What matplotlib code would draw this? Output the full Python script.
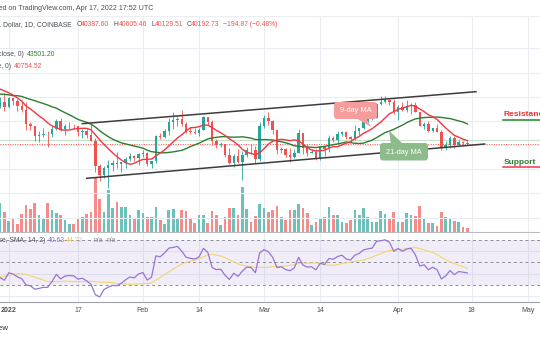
import matplotlib
matplotlib.use("Agg")
import matplotlib.pyplot as plt
import matplotlib.dates as mdates
import matplotlib.transforms as mtransforms
from matplotlib.patches import Polygon, FancyBboxPatch
from matplotlib.lines import Line2D
import numpy as np
import pandas as pd

W, H = 540, 340
plt.rcParams['font.family'] = ['Liberation Sans', 'DejaVu Sans']

# closes before the visible window, only used to feed the MA / RSI
hist_start = "2021-12-01"
hist_close = [57200, 56500, 53600, 49150, 49400, 50580, 50500, 50600, 47600, 47150,
              49390, 50090, 46720, 48380, 48880, 47650, 46200, 46850, 46700, 46880,
              48940, 48620, 50820, 50430, 50800, 50640, 50700, 47540, 46470]

# daily candles 2021-12-30 .. 2022-04-17
start = "2021-12-30"
opens = [46470, 47140, 46220, 47740, 47310, 46460, 45830, 43430, 43100, 41550,
         41690, 41860, 41830, 42740, 43930, 42590, 43080, 43170, 43090, 42230,
         42370, 41680, 40700, 36470, 35080, 36280, 36690, 36970, 36820, 37190,
         37720, 38170, 37920, 38490, 38710, 36900, 37330, 41570, 41390, 42400,
         43850, 44070, 44380, 43540, 42400, 42200, 42060, 42550, 44580, 43900,
         40600, 40000, 40100, 38380, 37020, 38250, 37260, 38350, 39230, 39130,
         37720, 43180, 44430, 43920, 42450, 39150, 39400, 38420, 38000, 38750,
         41960, 39440, 38740, 38810, 37790, 39680, 39290, 41120, 40920, 41770,
         42210, 41270, 41010, 42370, 42900, 43980, 44330, 44530, 46830, 47130,
         47450, 47070, 45530, 46300, 45820, 46420, 46620, 45500, 43170, 43450,
         42250, 42760, 42160, 39520, 40080, 41140, 39940, 40560, 40387.60]
highs = [47900, 48550, 47940, 47990, 47570, 47510, 47070, 43750, 43130, 42300,
         42800, 42250, 43100, 44350, 44440, 43450, 43800, 43480, 43190, 42690,
         42580, 43500, 41100, 36820, 36600, 37550, 37560, 38920, 37240, 38000,
         38700, 38360, 38730, 39270, 38860, 37390, 41750, 41950, 42660, 44520,
         45500, 44800, 45850, 43900, 43000, 42750, 42850, 44750, 44590, 44200,
         40950, 40450, 40130, 39500, 38450, 39280, 39000, 39700, 40100, 39850,
         43750, 44950, 45400, 44100, 42520, 39650, 39450, 39550, 39380, 42600,
         42050, 40250, 39360, 39300, 39900, 39880, 41700, 41470, 42300, 42400,
         42300, 41550, 43350, 42900, 44200, 45100, 44800, 46900, 48190, 48100,
         47700, 47600, 46700, 47200, 47450, 46880, 47100, 45500, 43900, 43950,
         42800, 43430, 42420, 40700, 41550, 41500, 40880, 40720, 40605.46]
lows = [46060, 45680, 46210, 46650, 45700, 45520, 42500, 42420, 40600, 40500,
        41280, 39650, 41270, 42470, 42320, 41730, 42600, 42700, 41550, 41250,
        41150, 40600, 35500, 34020, 34620, 32950, 35700, 36250, 35520, 36160,
        37330, 37360, 36630, 38020, 36600, 36260, 37050, 40980, 41150, 41700,
        42690, 43130, 43200, 42000, 41770, 41870, 41570, 42430, 43330, 40070,
        39450, 39650, 38000, 36800, 36360, 37060, 34300, 38000, 38600, 37030,
        37450, 42850, 43350, 41850, 38600, 38650, 38100, 37180, 37880, 38650,
        38550, 38230, 38650, 37600, 37580, 38120, 38900, 40540, 40200, 41520,
        40930, 40500, 40900, 41750, 42600, 43600, 44100, 44420, 46650, 46950,
        46550, 45220, 44220, 45630, 45520, 45120, 45400, 43120, 42720, 42110,
        42130, 42140, 39200, 39250, 39570, 39560, 39780, 40020, 40129.51]
closes = [47140, 46220, 47740, 47310, 46460, 45830, 43430, 43100, 41550, 41690,
          41860, 41830, 42740, 43930, 42590, 43080, 43170, 43090, 42230, 42370,
          41680, 40700, 36470, 35080, 36280, 36690, 36970, 36820, 37190, 37720,
          38170, 37920, 38490, 38710, 36900, 37330, 41570, 41390, 42400, 43850,
          44070, 44380, 43540, 42400, 42200, 42060, 42550, 44580, 43900, 40600,
          40000, 40100, 38380, 37020, 38250, 37260, 38350, 39230, 39130, 37720,
          43180, 44430, 43920, 42450, 39150, 39400, 38420, 38000, 38750, 41960,
          39440, 38740, 38810, 37790, 39680, 39290, 41120, 40920, 41770, 42210,
          41270, 41010, 42370, 42900, 43980, 44330, 44530, 46830, 47130, 47450,
          47070, 45530, 46300, 45820, 46420, 46620, 45500, 43170, 43450, 42250,
          42760, 42160, 39520, 40080, 41140, 39940, 40560, 40390, 40192.73]
# volume read as bar height (thousand BTC, approx)
volumes = [29, 20, 11, 14, 8, 18, 27, 23, 29, 17,
           13, 29, 22, 19, 17, 12, 8, 8, 14, 15,
           18, 20, 55, 33, 20, 42, 24, 30, 25, 25,
           17, 14, 22, 19, 15, 15, 25, 12, 8, 22,
           23, 14, 22, 21, 14, 9, 17, 17, 9, 21,
           17, 7, 15, 24, 24, 17, 45, 23, 10, 16,
           28, 24, 20, 22, 26, 15, 12, 22, 22, 28,
           24, 19, 7, 10, 14, 15, 25, 17, 17, 10,
           9, 12, 22, 17, 24, 15, 10, 10, 21, 18,
           14, 20, 10, 10, 19, 17, 16, 26, 14, 9,
           9, 6, 20, 15, 14, 11, 10, 5, 4]

# hand drawn channel and price lines
chan_up_dates = ["2022-01-18", "2022-04-19"]
chan_up_price = [43540, 48830]
chan_lo_dates = ["2022-01-19", "2022-04-21"]
chan_lo_price = [34510, 40180]
ma_line_price = 40850

x_ticks = ["2022-01-01", "2022-01-17", "2022-02-01", "2022-02-14", "2022-03-01",
           "2022-03-14", "2022-04-01", "2022-04-18", "2022-05-01"]
x_labels = ["2022", "17", "Feb", "14", "Mar", "14", "Apr", "18", "May"]

UP, DOWN = "#26a69a", "#ef5350"
GRID = "#e9edf3"

dates = pd.date_range(start, periods=len(closes), freq="D")
o, h, l, c = map(np.array, (opens, highs, lows, closes))
x = mdates.date2num(dates)
up = c >= o
cols = np.where(up, UP, DOWN)

full = pd.Series(hist_close + closes,
                 index=pd.date_range(hist_start, periods=len(hist_close) + len(closes), freq="D"))
xf = mdates.date2num(full.index)
ma9 = full.rolling(9).mean()
ma21 = full.rolling(21).mean()
delta = full.diff()
gain = delta.clip(lower=0).ewm(alpha=1 / 14, adjust=False).mean()
loss = (-delta.clip(upper=0)).ewm(alpha=1 / 14, adjust=False).mean()
rsi = 100 - 100 / (1 + gain / loss)
rsi_sma = rsi.rolling(14).mean()

x0 = mdates.date2num(pd.Timestamp("2022-01-01"))
xlim = (x0 - 2.03, x0 + 122.8)

fig = plt.figure(figsize=(W / 100, H / 100), dpi=100)
fig.patch.set_facecolor("white")
T = mtransforms.IdentityTransform()


def P(px, py):
    return px, H - py


def rect(top, bottom):
    return [0, 1 - bottom / H, 1, (bottom - top) / H]


# volume pane (below) and price pane (above, transparent)
ax_v = fig.add_axes(rect(16, 232))
ax = fig.add_axes(rect(16, 232))
ax.patch.set_visible(False)
for a in (ax_v, ax):
    a.set_xlim(*xlim)
    a.set_xticks([])
    a.set_yticks([])
    for s in a.spines.values():
        s.set_visible(False)
ax.spines["bottom"].set_visible(True)
ax.spines["bottom"].set_color("#b8bbc2")
ax.spines["top"].set_visible(True)
ax.spines["top"].set_color("#eceef2")

ax_v.set_ylim(0, 216)
for t in x_ticks:
    ax_v.axvline(mdates.date2num(pd.Timestamp(t)), color=GRID, lw=0.8, zorder=0)
vcols = np.where(up, "#6cc2ba", "#f58c8a")
ax_v.bar(x, volumes, width=0.62, color=vcols, lw=0, zorder=2)

ax.set_ylim(25636, 61339)
for p in range(28000, 60000, 4000):
    ax.axhline(p, color=GRID, lw=0.8, zorder=0)

ax.plot(xf, ma21, color="#2e7d32", lw=1.0, zorder=5)
ax.plot(xf, ma9, color="#f23645", lw=1.0, zorder=5)
ax.vlines(x, l, h, colors=cols, lw=0.6, zorder=3)
ax.bar(x, np.maximum(np.abs(c - o), 70), bottom=np.minimum(o, c), width=0.56,
       color=cols, lw=0, zorder=4)

ax.plot(mdates.date2num(pd.to_datetime(chan_up_dates)), chan_up_price, color="#3d3d3d", lw=1.1, zorder=6)
ax.plot(mdates.date2num(pd.to_datetime(chan_lo_dates)), chan_lo_price, color="#3d3d3d", lw=1.1, zorder=6)
ax.axhline(ma_line_price, color="#c5e3c4", lw=0.8, zorder=1)
ax.axhline(closes[-1], color="#ef5350", lw=0.7, ls=(0, (1, 1.5)), zorder=1)

# RSI pane
ax_r = fig.add_axes(rect(233, 301.7))
ax_r.set_xlim(*xlim)
ax_r.set_ylim(15.16, 76.2)
ax_r.set_yticks([])
ax_r.set_xticks([])
for s in ax_r.spines.values():
    s.set_visible(False)
ax_r.spines["bottom"].set_visible(True)
ax_r.spines["bottom"].set_color("#9aa0a8")
for t in x_ticks:
    ax_r.axvline(mdates.date2num(pd.Timestamp(t)), color=GRID, lw=0.8, zorder=0)
for g in (20, 40, 60):
    ax_r.axhline(g, color=GRID, lw=0.8, zorder=0)
ax_r.axhspan(30, 70, color="#7e57c2", alpha=0.1, lw=0, zorder=1)
for g in (30, 50, 70):
    ax_r.axhline(g, color="#8a8d96", lw=0.7, ls=(0, (3, 3)), zorder=2)
ax_r.plot(xf, rsi_sma, color="#f2d66e", lw=0.8, zorder=3)
ax_r.plot(xf, rsi, color="#9575d6", lw=0.9, zorder=4)

bt = mtransforms.blended_transform_factory(ax_r.transData, T)
for t, lab in zip(x_ticks, x_labels):
    ax_r.text(mdates.date2num(pd.Timestamp(t)), H - 310, lab, transform=bt, ha="center", va="center",
              fontsize=5.0, color="#4a4e57", fontweight="bold" if lab == "2022" else "normal",
              clip_on=False)

# header texts
fs = 4.85
fig.text(*P(153, 8), "Published on TradingView.com, Apr 17, 2022 17:52 UTC", transform=T,
         ha="right", va="center", fontsize=5.1, color="#4a4e57")
fig.text(*P(72, 25), "Bitcoin / U.S. Dollar, 1D, COINBASE", transform=T,
         ha="right", va="center", fontsize=fs, color="#4a4e57")
for lx, lab, vx, val in [(76.5, "O", 81.2, "40387.60"), (113.8, "H", 118.5, "40605.46"),
                         (151.5, "L", 155.3, "40129.51"), (186.5, "C", 191, "40192.73")]:
    fig.text(*P(lx, 25), lab, transform=T, ha="left", va="center", fontsize=fs, color="#4a4e57")
    fig.text(*P(vx, 25), val, transform=T, ha="left", va="center", fontsize=fs, color=DOWN)
fig.text(*P(223, 25), "\u2212194.87 (\u22120.48%)", transform=T, ha="left", va="center",
         fontsize=fs, color=DOWN)

fig.text(*P(23.5, 55), "MA (21, close, 0)", transform=T, ha="right", va="center", fontsize=fs, color="#4a4e57")
fig.text(*P(27, 55), "43501.20", transform=T, ha="left", va="center", fontsize=fs, color="#2e7d32")
fig.text(*P(11, 66), "MA (9, close, 0)", transform=T, ha="right", va="center", fontsize=fs, color="#4a4e57")
fig.text(*P(14, 66), "40754.52", transform=T, ha="left", va="center", fontsize=fs, color=DOWN)

fig.text(*P(45.5, 241), "RSI (14, close, SMA, 14, 2)", transform=T, ha="right", va="center",
         fontsize=fs, color="#4a4e57")
fig.text(*P(48, 241), "40.63", transform=T, ha="left", va="center", fontsize=fs, color="#8f6fd4")
fig.text(*P(66, 241), "44.72", transform=T, ha="left", va="center", fontsize=fs, color="#e8c94a")
fig.text(*P(94, 241), "n/a", transform=T, ha="left", va="center", fontsize=fs, color="#8a8d96")
fig.text(*P(107, 241), "n/a", transform=T, ha="left", va="center", fontsize=fs, color="#8a8d96")

fig.text(*P(8.5, 328), "TradingView", transform=T, ha="right", va="center", fontsize=5.6, color="#2a2e39")


# callouts for the two moving averages
def callout(x0_, y0_, x1_, y1_, tri, text, fc):
    fig.add_artist(Polygon([P(*q) for q in tri], closed=True, fc=fc, ec="none", transform=T))
    fig.add_artist(FancyBboxPatch(P(x0_, y1_), x1_ - x0_, y1_ - y0_,
                                  boxstyle="round,pad=0,rounding_size=3", fc=fc, ec="none", transform=T))
    fig.text(*P((x0_ + x1_) / 2, (y0_ + y1_) / 2 + 0.3), text, transform=T, ha="center", va="center",
             fontsize=5.3, color="white")


callout(334, 102, 377, 119, [(356, 118), (366, 118), (371, 127)], "9-day MA", "#f59c9c")
callout(380, 143, 428, 160.5, [(391, 144), (403, 144), (389, 130.5)], "21-day MA", "#8dbb8c")

# resistance / support labels
fig.text(*P(504, 115), "Resistance", transform=T, ha="left", va="center", fontsize=6.0,
         fontweight="bold", color="#e53935")
fig.add_artist(Line2D([503, 541], [H - 119.5, H - 119.5], color="#2e7d32", lw=1.1, transform=T))
fig.text(*P(504, 162.5), "Support", transform=T, ha="left", va="center", fontsize=6.0,
         fontweight="bold", color="#2e7d32")
fig.add_artist(Line2D([503, 541], [H - 166.8, H - 166.8], color="#f23645", lw=1.1, transform=T))

fig.savefig("out.png", dpi=100)
